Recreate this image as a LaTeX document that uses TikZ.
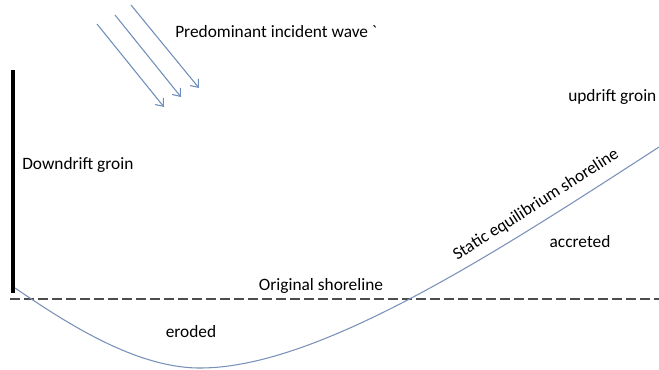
\documentclass[tikz,border=0pt]{standalone}
\usepackage{fontspec}
\setmainfont{Carlito}
\usetikzlibrary{positioning, arrows.meta}
\definecolor{wavecol}{RGB}{112,142,188}
\definecolor{shorecol}{RGB}{122,145,184}

\begin{document}
\begin{tikzpicture}[x=0.75pt, y=-0.75pt, font=\fontsize{13}{15}\selectfont,
    lbl/.style={inner sep=0pt},
    wave/.style={wavecol, line width=0.8pt, -{Straight Barb[length=5pt, width=8pt]}}]
    \useasboundingbox (0,0) rectangle (659,369);

    % 入射波
    \foreach \i/\xa/\ya/\xb/\yb in {1/97/24/164/107, 2/115/15/181/97, 3/131/5/199/88} {
        \coordinate (w\i s) at (\xa, \ya);
        \coordinate (w\i e) at (\xb, \yb);
        \draw[wave] (w\i s) -- (w\i e);
    }
    \node[lbl, anchor=west] (wavetxt) at (175, 32) {Predominant incident wave \textasciigrave};

    % 丁坝
    \coordinate (gtop) at (13, 70);
    \coordinate (gbot) at (13, 293);
    \draw[line width=3.2pt] (gtop) -- (gbot);
    \node[lbl, anchor=west] (downtxt) at (22, 165) {Downdrift groin};
    \node[lbl, anchor=west] (uptxt) at (568, 97) {updrift groin};

    % 原始岸线
    \coordinate (o1) at (10, 299);
    \coordinate (o2) at (659, 299);
    \draw[black!70, line width=0.9pt, dash pattern=on 7.5pt off 3pt] (o1) -- (o2);
    \node[lbl] (origtxt) at (321, 286) {Original shoreline};

    % 平衡岸线
    \coordinate (s0) at (15, 288);
    \coordinate (smin) at (200, 368);
    \coordinate (s1) at (659, 147);
    \draw[shorecol, line width=0.8pt] (s0) .. controls (65, 322) and (135, 368) .. (smin)
        .. controls (320, 368) and (500, 250) .. (s1);
    \node[lbl, rotate=32.5] (statictxt) at (536, 205) {Static equilibrium shoreline};

    % 侵蚀与淤积
    \node[lbl] (erodtxt) at (191, 332) {eroded};
    \node[lbl] (accrtxt) at (580, 242) {accreted};
\end{tikzpicture}
\end{document}
